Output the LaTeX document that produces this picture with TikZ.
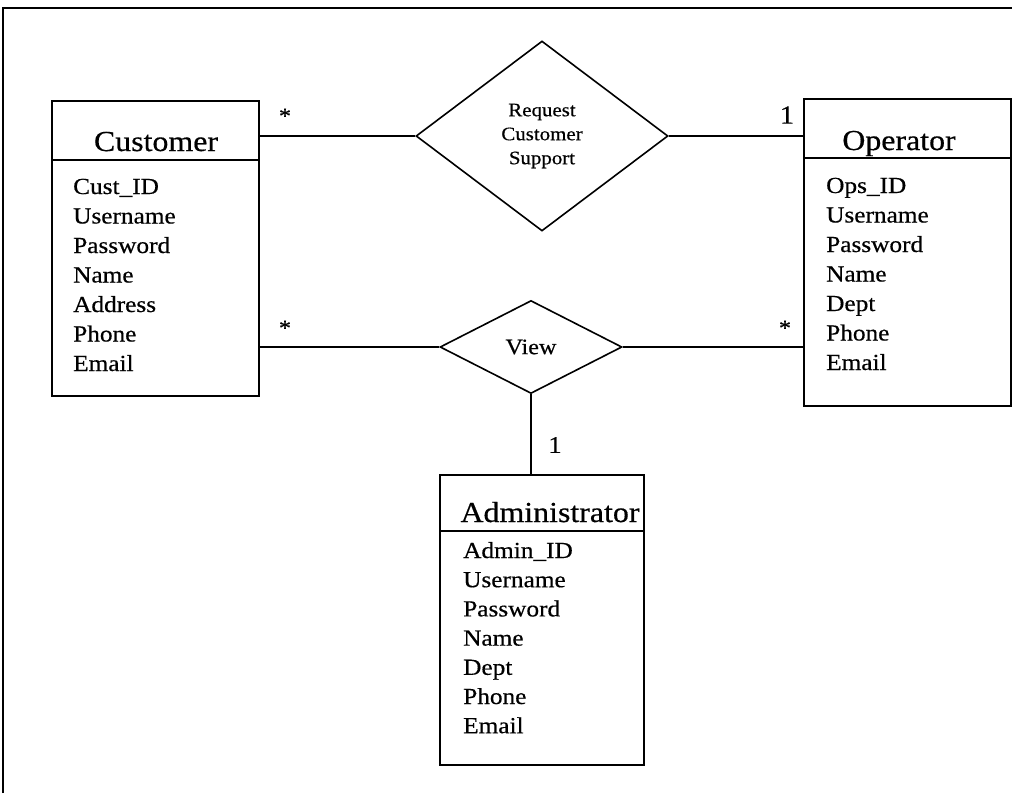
\documentclass[tikz,border=0pt]{standalone}
\usepackage{fontspec}
\setmainfont{Liberation Serif}[FakeStretch=1.1, FakeBold=0.5]
\usetikzlibrary{shapes.geometric}
\begin{document}
\begin{tikzpicture}[x=1pt,y=-1pt,
  entity/.style={draw, line width=1.8pt, rectangle, inner sep=0pt, anchor=north west},
  headline/.style={line width=1.6pt},
  etitle/.style={font=\fontsize{29}{32}\selectfont, anchor=base, inner sep=0pt},
  attr/.style={font=\fontsize{23}{28}\selectfont, anchor=base west, inner sep=0pt},
  rel/.style={draw, diamond, line width=1.6pt, inner sep=0pt, align=center},
  conn/.style={line width=1.6pt},
  mult/.style={inner sep=0pt}
]
\useasboundingbox (0,0) rectangle (1031,793);
\fill[white] (0,0) rectangle (1031,793);
% page frame (top and left edges)
\draw[line width=1.6pt] (3,793) -- (3,8) -- (1012,8);

% Customer entity
\node[entity, minimum width=207pt, minimum height=295pt] (cust) at (51,100) {};
\draw[headline] ([yshift=-60pt]cust.north west) -- ([yshift=-60pt]cust.north east);
\node[etitle] (custT) at (156,151) {Customer};
\foreach \t [count=\i] in {Cust\_ID, Username, Password, Name, Address, Phone, Email}
  \node[attr] (custA\i) at (73,{194+29.5*(\i-1)}) {\t};

% Operator entity
\node[entity, minimum width=207pt, minimum height=307pt] (ops) at (803,98) {};
\draw[headline] ([yshift=-60pt]ops.north west) -- ([yshift=-60pt]ops.north east);
\node[etitle] (opsT) at (899,150) {Operator};
\foreach \t [count=\i] in {Ops\_ID, Username, Password, Name, Dept, Phone, Email}
  \node[attr] (opsA\i) at (826,{193+29.5*(\i-1)}) {\t};

% Administrator entity
\node[entity, minimum width=204pt, minimum height=290pt] (admin) at (439,474) {};
\draw[headline] ([yshift=-57pt]admin.north west) -- ([yshift=-57pt]admin.north east);
\node[etitle] (adminT) at (550,522) {Administrator};
\foreach \t [count=\i] in {Admin\_ID, Username, Password, Name, Dept, Phone, Email}
  \node[attr] (adminA\i) at (463,{558+29.2*(\i-1)}) {\t};

% Relationships
\node[rel, minimum width=252pt, minimum height=190pt,
      font=\fontsize{19}{24}\selectfont] (req) at (542,136) {Request\\Customer\\Support};
\node[rel, minimum width=182pt, minimum height=93pt,
      font=\fontsize{22}{24}\selectfont] (view) at (531,347) {View};

% Connectors
\draw[conn] (req.west -| cust.east) -- (req.west);
\draw[conn] (req.east) -- (req.east -| ops.west);
\draw[conn] (view.west -| cust.east) -- (view.west);
\draw[conn] (view.east) -- (view.east -| ops.west);
\draw[conn] (view.south) -- (view.south |- admin.north);

% Multiplicities
\node[mult, font=\fontsize{22}{22}\selectfont] (m1) at (285,116) {*};
\node[mult, font=\fontsize{26}{26}\selectfont] (m2) at (787,115) {1};
\node[mult, font=\fontsize{22}{22}\selectfont] (m3) at (285,328) {*};
\node[mult, font=\fontsize{22}{22}\selectfont] (m4) at (785,328) {*};
\node[mult, font=\fontsize{24}{24}\selectfont] (m5) at (555,445) {1};
\end{tikzpicture}
\end{document}
